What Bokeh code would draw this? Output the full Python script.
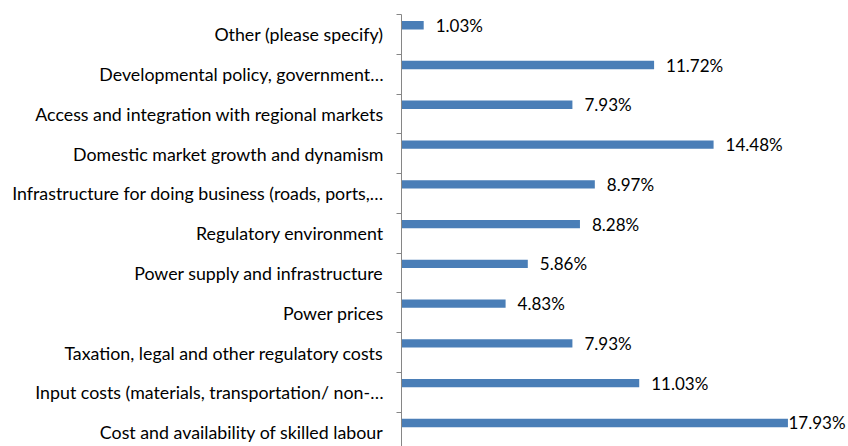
from bokeh.plotting import figure
from bokeh.models import Range1d, FixedTicker, ColumnDataSource
from bokeh.embed import file_html
from bokeh.resources import INLINE
from bokeh.core.properties import value

# bottom to top
categories = [
    "Cost and availability of skilled labour",
    "Input costs (materials, transportation/ non-…",
    "Taxation, legal and other regulatory costs",
    "Power prices",
    "Power supply and infrastructure",
    "Regulatory environment",
    "Infrastructure for doing business (roads, ports,…",
    "Domestic market growth and dynamism",
    "Access and integration with regional markets",
    "Developmental policy, government…",
    "Other (please specify)",
]
values = [17.93, 11.03, 7.93, 4.83, 5.86, 8.28, 8.97, 14.48, 7.93, 11.72, 1.03]
labels = ["%.2f%%" % v for v in values]

n = len(categories)
XMAX = 20.74
FONT = "Lato"

centers = [i + 0.5 for i in range(n)]
bar_y = [c + 0.23 for c in centers]
px_per_unit = 447 / XMAX
offsets = []
for v in values:
    space = (XMAX - v) * px_per_unit - 60
    offsets.append(max(0.5, min(12, space)))

src = ColumnDataSource(dict(y=bar_y, v=values, lab=labels, off=offsets))

p = figure(width=848, height=446, output_backend="svg", toolbar_location=None,
           x_range=Range1d(0, XMAX), y_range=Range1d(0.138, n),
           min_border_left=401, min_border_right=0, min_border_top=14,
           min_border_bottom=0, outline_line_color=None, x_axis_location=None)
p.grid.visible = False
p.background_fill_color = "white"
p.border_fill_color = "white"

p.hbar(y="y", left=0, right="v", height=0.21, source=src,
       fill_color="#4A7EB7", line_color=None)
p.text(x="v", y="y", text="lab", source=src, x_offset="off",
       text_align="left", text_baseline="middle",
       text_font=value(FONT), text_font_size="17px", text_color="#000000")

ax = p.yaxis[0]
ax.ticker = FixedTicker(ticks=centers, minor_ticks=list(range(n + 1)))
ax.major_label_overrides = {c: cat for c, cat in zip(centers, categories)}
ax.major_tick_out = 0
ax.major_tick_in = 0
ax.minor_tick_out = 5
ax.minor_tick_in = 0
ax.minor_tick_line_color = "#868686"
ax.axis_line_color = "#868686"
ax.major_label_standoff = 13
ax.major_label_text_font = FONT
ax.major_label_text_font_size = "17.8px"
ax.major_label_text_color = "#000000"

open("out.html", "w").write(file_html(p, INLINE))
